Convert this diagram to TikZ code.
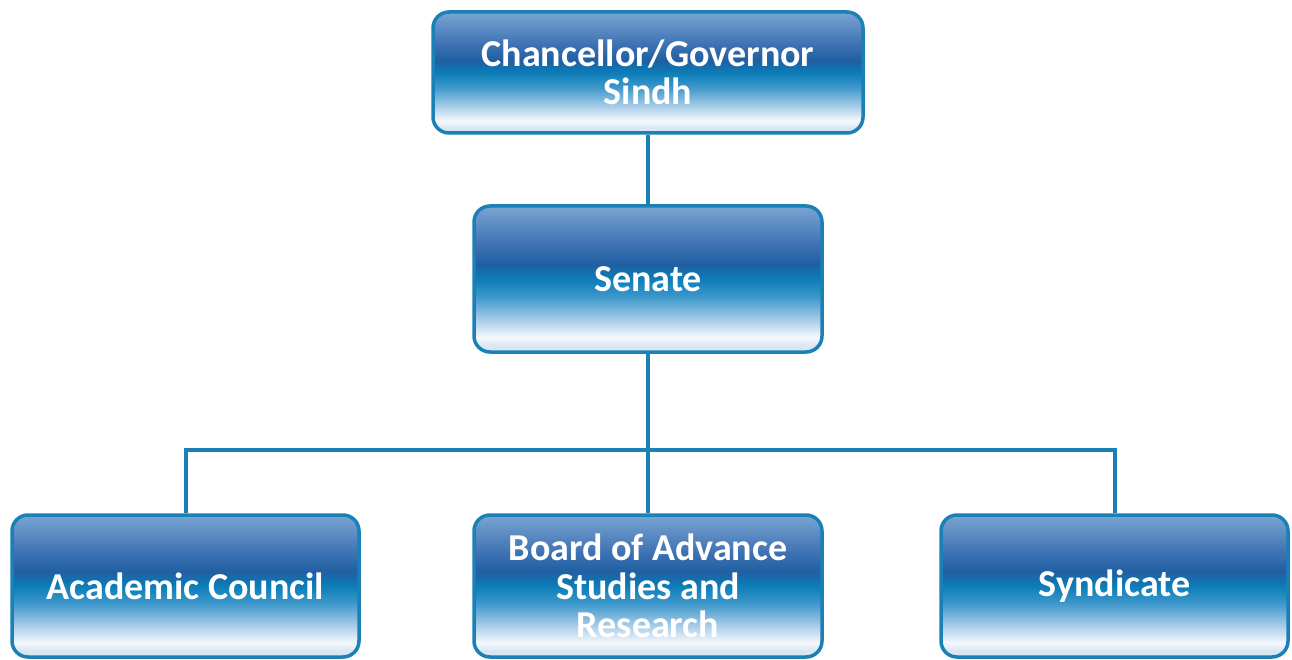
\documentclass[tikz,border=0pt]{standalone}
\usepackage{fontspec}
\setmainfont{Carlito}
\definecolor{edgeblue}{HTML}{1A80B5}
\definecolor{linkblue}{HTML}{1A80B5}
\definecolor{sA}{HTML}{D8E6F3}
\definecolor{sB}{HTML}{F4F8FC}
\definecolor{sC}{HTML}{A9CDE8}
\definecolor{sD}{HTML}{3C97CB}
\definecolor{sE}{HTML}{0B7DB8}
\definecolor{sF}{HTML}{1F5FA2}
\definecolor{sG}{HTML}{3F73B3}
\definecolor{sH}{HTML}{7AA5D3}
\pgfdeclareverticalshading{boxshade}{100bp}{color(0bp)=(sA); color(25bp)=(sA); color(27bp)=(sA); color(30bp)=(sB); color(36bp)=(sC); color(44bp)=(sD); color(50bp)=(sE); color(55bp)=(sF); color(62bp)=(sG); color(75bp)=(sH); color(100bp)=(sH)}
\tikzset{
  orgbox/.style={draw=edgeblue, line width=3.5pt, rounded corners=16pt, shading=boxshade,
    inner sep=0pt, text=white, font=\bfseries\fontsize{38}{38.5}\selectfont, align=center},
  link/.style={draw=linkblue, line width=4pt}
}
\begin{document}
\begin{tikzpicture}[x=1pt,y=-1pt]
\useasboundingbox (0,0) rectangle (1292,660);
\node[orgbox, minimum width=430pt, minimum height=121pt] (chan) at (648,72.5) {Chancellor/Governor\\Sindh};
\node[orgbox, minimum width=348pt, minimum height=146pt] (sen) at (648,279) {Senate};
\node[orgbox, minimum width=347pt, minimum height=142pt] (acad) at (185.5,586) {Academic Council};
\node[orgbox, minimum width=348pt, minimum height=142pt] (bas) at (648,586) {Board of Advance\\Studies and\\Research};
\node[orgbox, minimum width=347pt, minimum height=142pt] (syn) at (1114.5,586) {Syndicate};
\coordinate (hub) at (648,450);
\draw[link] (chan.south) -- (sen.north);
\draw[link] (sen.south) -- (hub);
\draw[link] (acad.north) |- (hub) -| (syn.north);
\draw[link] (hub) -- (bas.north);
\end{tikzpicture}
\end{document}
